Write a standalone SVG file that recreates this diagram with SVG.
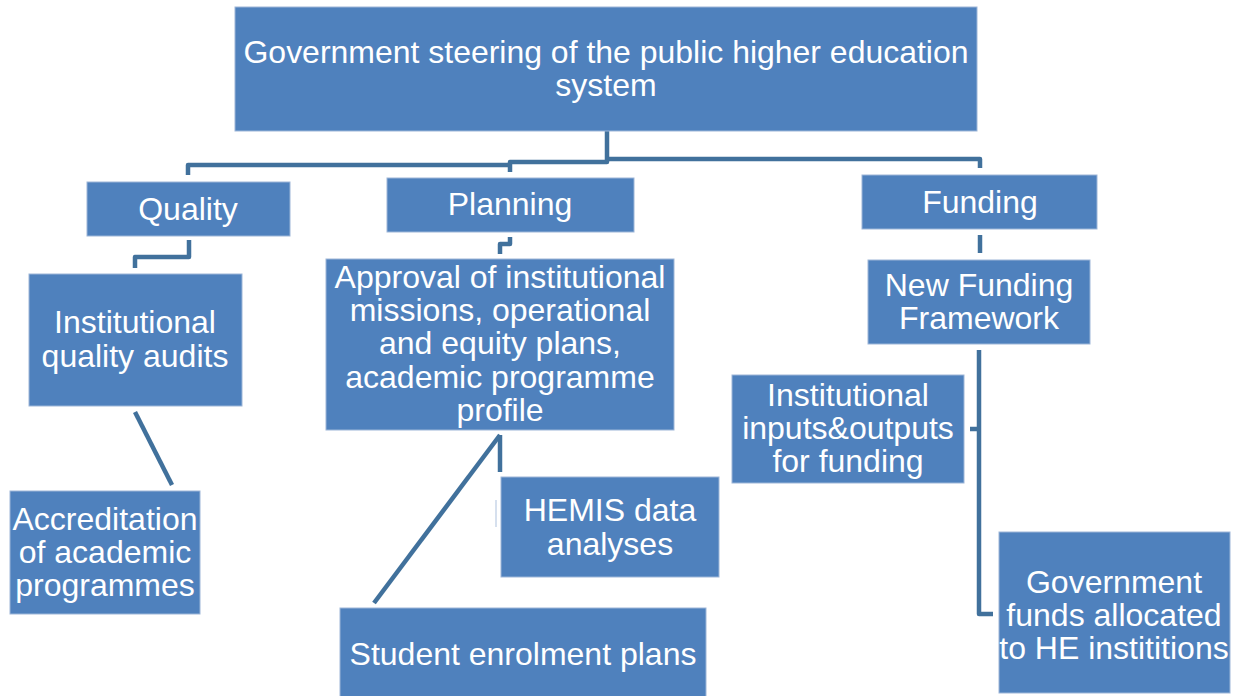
<svg xmlns="http://www.w3.org/2000/svg" width="1237" height="696" viewBox="0 0 1237 696">
<style>
.box{fill:#4F81BD;stroke:#9DB6D8;stroke-width:1}
.t{font-family:"Liberation Sans",Arial,sans-serif;font-size:32px;fill:#fff;text-anchor:middle}
.c{fill:none;stroke:#41719C;stroke-width:4.5;stroke-linejoin:round}
</style>
<rect width="1237" height="696" fill="#fff"/>
<g id="connectors">
<path class="c" d="M607 131 V162 H510 V172"/>
<path class="c" d="M607 159 H980 V168"/>
<path class="c" d="M510 165 H188 V175"/>
<path class="c" d="M189 240 V257 H135 V268"/>
<path class="c" d="M510 237 V244 H500 V254"/>
<path class="c" d="M980 235 V253"/>
<path class="c" d="M979 350 V614 H993"/>
<path class="c" d="M979 429 H970"/>
<path class="c" d="M135 412 L172 485"/>
<path class="c" d="M500 435 V472"/>
<path class="c" d="M500 435 L374 603"/>
<path d="M496 500 V527" stroke="#C9D6E8" stroke-width="1.5"/>
</g>
<g id="top"><rect class="box" x="235" y="7" width="742" height="124"/>
<text class="t" x="606" y="63" font-size="30" textLength="725" lengthAdjust="spacingAndGlyphs">Government steering of the public higher education</text>
<text class="t" x="606" y="96" font-size="30">system</text></g>
<g id="quality"><rect class="box" x="87" y="182" width="203" height="54"/><text class="t" x="188" y="220">Quality</text></g>
<g id="planning"><rect class="box" x="387" y="178" width="247" height="54"/><text class="t" x="510" y="215">Planning</text></g>
<g id="funding"><rect class="box" x="862" y="175" width="235" height="54"/><text class="t" x="980" y="213">Funding</text></g>
<g id="audits"><rect class="box" x="29" y="274" width="213" height="132"/><text class="t" x="135" y="333">Institutional</text><text class="t" x="135" y="367">quality audits</text></g>
<g id="approval"><rect class="box" x="326" y="259" width="348" height="171"/>
<text class="t" x="500" y="288">Approval of institutional</text>
<text class="t" x="500" y="321">missions, operational</text>
<text class="t" x="500" y="354">and equity plans,</text>
<text class="t" x="500" y="388">academic programme</text>
<text class="t" x="500" y="421">profile</text></g>
<g id="nff"><rect class="box" x="868" y="260" width="222" height="84"/><text class="t" x="979" y="296">New Funding</text><text class="t" x="979" y="329">Framework</text></g>
<g id="inputs"><rect class="box" x="732" y="375" width="232" height="108"/><text class="t" x="848" y="406">Institutional</text><text class="t" x="848" y="439">inputs&amp;outputs</text><text class="t" x="848" y="472">for funding</text></g>
<g id="accreditation"><rect class="box" x="10" y="491" width="190" height="123"/><text class="t" x="105" y="530">Accreditation</text><text class="t" x="105" y="563">of academic</text><text class="t" x="105" y="596">programmes</text></g>
<g id="hemis"><rect class="box" x="501" y="477" width="218" height="100"/><text class="t" x="610" y="521">HEMIS data</text><text class="t" x="610" y="555">analyses</text></g>
<g id="enrolment"><rect class="box" x="340" y="608" width="366" height="92"/><text class="t" x="523" y="665">Student enrolment plans</text></g>
<g id="govfunds"><rect class="box" x="999" y="532" width="231" height="161"/><text class="t" x="1114" y="593">Government</text><text class="t" x="1114" y="626">funds allocated</text><text class="t" x="1114" y="659">to HE instititions</text></g>
</svg>
